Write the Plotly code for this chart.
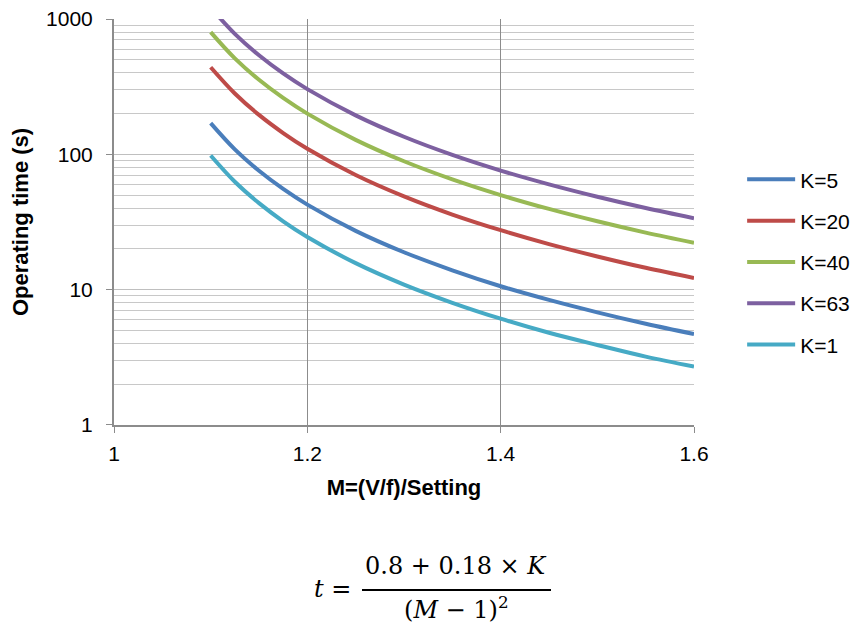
import plotly.graph_objects as go

# Data
M = [1.1, 1.125, 1.15, 1.175, 1.2, 1.25, 1.3, 1.35, 1.4, 1.45, 1.5, 1.55, 1.6]
series_names = ["K=5", "K=20", "K=40", "K=63", "K=1"]
k5 = [170, 108.8, 75.6, 55.5, 42.5, 27.2, 18.9, 13.9, 10.6, 8.4, 6.8, 5.6, 4.7]
k20 = [440, 281.6, 195.6, 143.7, 110, 70.4, 48.9, 35.9, 27.5, 21.7, 17.6, 14.5, 12.2]
k40 = [800, 512, 355.6, 261.2, 200, 128, 88.9, 65.3, 50, 39.5, 32, 26.4, 22.2]
k63 = [1214, 777, 539.6, 396.4, 303.5, 194.2, 134.9, 99.1, 75.9, 60.0, 48.6, 40.1, 33.7]
k1 = [98, 62.7, 43.6, 32.0, 24.5, 15.7, 10.9, 8.0, 6.1, 4.8, 3.9, 3.2, 2.7]
series_values = [k5, k20, k40, k63, k1]
colors = ["#4A7EBB", "#BE4B48", "#98B954", "#7D60A0", "#46AAC5"]

x_ticks = [1, 1.2, 1.4, 1.6]
x_tick_labels = ["1", "1.2", "1.4", "1.6"]
y_ticks = [1, 10, 100, 1000]
y_tick_labels = ["1", "10", "100", "1000"]
y_minor = [m * d for d in (1, 10, 100) for m in range(2, 10)]

fig = go.Figure()
for name, vals, c in zip(series_names, series_values, colors):
    fig.add_trace(go.Scatter(x=M, y=vals, name=name, mode="lines", legendgroup=name,
                             line=dict(color=c, width=4, shape="spline")))

# page body has an 8px margin, so the figure is offset by 8px
OFF = 8
L, T, R_EDGE, B_EDGE = 114, 19, 694, 425
W, H = 859 - OFF, 623 - OFF

fig.update_layout(
    width=W, height=H,
    margin=dict(l=L - OFF, r=859 - R_EDGE, t=T - OFF, b=623 - B_EDGE, autoexpand=False),
    paper_bgcolor="white", plot_bgcolor="white",
    font=dict(family="Liberation Sans, Arial, sans-serif", color="black"),
    legend=dict(x=1.083, xanchor="left", y=0.401, yanchor="middle",
                font=dict(size=21), tracegroupgap=11, itemwidth=48,
                bgcolor="rgba(0,0,0,0)"),
    showlegend=True,
)

fig.update_xaxes(
    range=[1, 1.6], tickmode="array", tickvals=x_ticks, ticktext=x_tick_labels,
    showgrid=True, gridcolor="#8C8C8C", gridwidth=1,
    showline=True, linecolor="#8C8C8C", linewidth=2,
    ticks="outside", ticklen=6, tickcolor="#8C8C8C", tickwidth=1,
    tickfont=dict(size=21), ticklabelstandoff=3, ticklabeloverflow="allow",
    title=dict(text="<b>M=(V/f)/Setting</b>", font=dict(size=22), standoff=15),
    zeroline=False, automargin=False,
)
fig.update_yaxes(
    type="log", range=[-0.0002, 3.0002], tickmode="array", tickvals=y_ticks, ticktext=y_tick_labels,
    showgrid=True, gridcolor="#BFBFBF", gridwidth=1,
    minor=dict(tickmode="array", tickvals=y_minor, showgrid=True,
               gridcolor="#C8C8C8", gridwidth=1, ticks=""),
    showline=True, linecolor="#8C8C8C", linewidth=2,
    ticks="outside", ticklen=6, tickcolor="#8C8C8C", tickwidth=1,
    tickfont=dict(size=21), ticklabelstandoff=9, ticklabeloverflow="allow",
    title=dict(text="<b>Operating time (s)</b>", font=dict(size=22), standoff=20),
    zeroline=False, automargin=False,
)

# Formula below the chart (positions given in reference pixels)
def px_x(px):
    return (px - L) / float(R_EDGE - L)

def px_y(py):
    return (B_EDGE - py) / float(B_EDGE - T)

serif = "DejaVu Serif, Liberation Serif, serif"
fsize = 24
fig.add_annotation(x=px_x(456), y=px_y(566), xref="paper", yref="paper",
                   text="0.8 + 0.18 × <i>K</i>", showarrow=False,
                   font=dict(family=serif, size=fsize, color="black"),
                   xanchor="center", yanchor="middle")
fig.add_annotation(x=px_x(456), y=px_y(608), xref="paper", yref="paper",
                   text="(<i>M</i> − 1)<sup>2</sup>", showarrow=False,
                   font=dict(family=serif, size=fsize, color="black"),
                   xanchor="center", yanchor="middle")
fig.add_annotation(x=px_x(332), y=px_y(589), xref="paper", yref="paper",
                   text="<i>t</i> =", showarrow=False,
                   font=dict(family=serif, size=fsize, color="black"),
                   xanchor="center", yanchor="middle")
fig.add_shape(type="line", xref="paper", yref="paper",
              x0=px_x(362), x1=px_x(551), y0=px_y(590), y1=px_y(590),
              line=dict(color="black", width=2))

fig.write_html("out.html")
